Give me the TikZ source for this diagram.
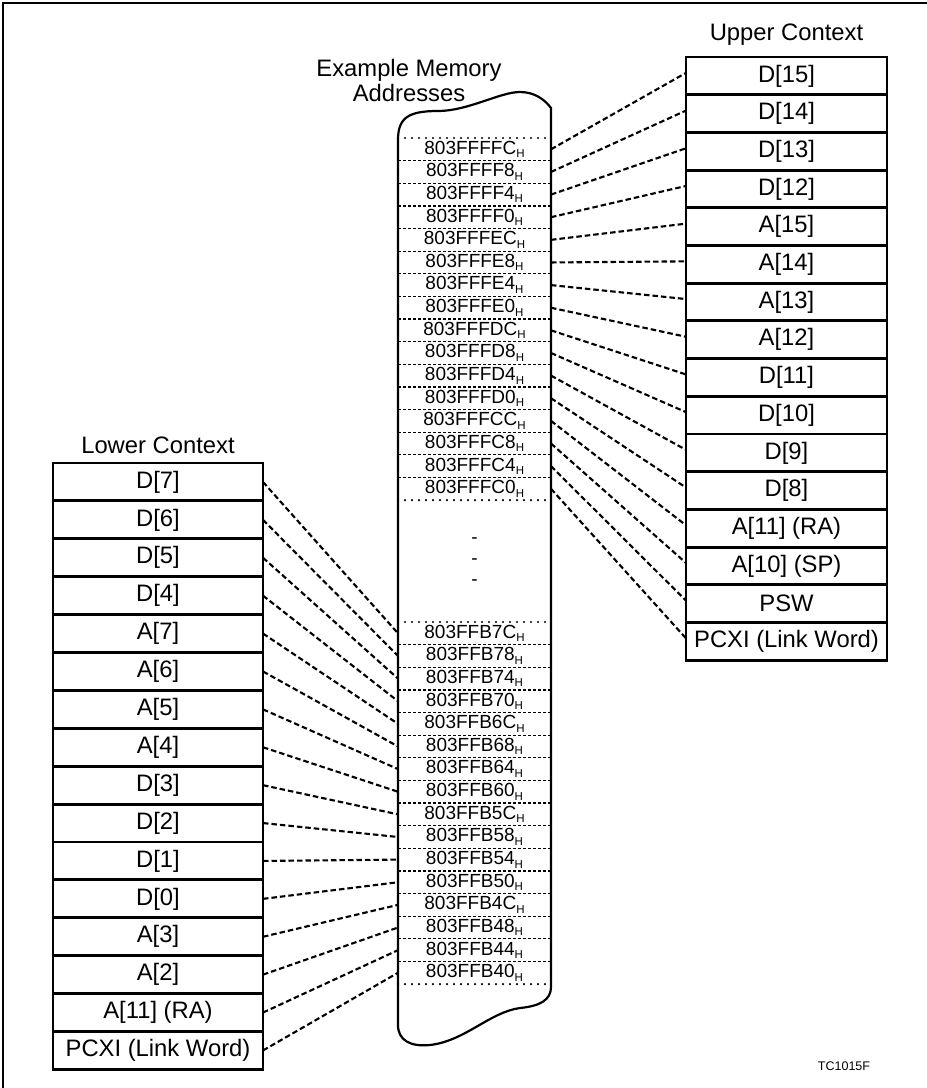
\documentclass[tikz,border=0pt]{standalone}
\usepackage{fontspec}
\setmainfont{Liberation Sans}
\newcommand{\addr}[1]{#1\raisebox{-0.35ex}{\fontsize{11.5}{11.5}\selectfont H}}
\begin{document}
\begin{tikzpicture}[x=1pt,y=-1pt,
  regbox/.style={draw, line width=2.8pt, minimum height=37.75pt, inner sep=0pt, outer sep=0pt, font=\fontsize{23.8}{27}\selectfont},
  upbox/.style={regbox, minimum width=201pt},
  lowbox/.style={regbox, minimum width=210pt},
  cell/.style={minimum width=153pt, minimum height=22.63pt, inner sep=0pt, outer sep=0pt, font=\fontsize{19}{20}\selectfont},
  conn/.style={line width=2.1pt, dash pattern=on 5.5pt off 3pt},
  celldash/.style={line width=1.3pt, dash pattern=on 3pt off 2pt},
  celldot/.style={line width=2.4pt, dash pattern=on 0pt off 7pt, line cap=round},
  lbl/.style={font=\fontsize{23.8}{25}\selectfont, align=center, inner sep=0pt}]
\useasboundingbox (0,0) rectangle (927,1088);
% frame
\draw[line width=2pt] (3,1088) -- (3,3) -- (927,3);

% memory column outline
\draw[line width=2.2pt] (551,987) -- (551,108)
  .. controls (545,100) and (535,92) .. (520,92)
  .. controls (500,92) and (468,111) .. (438,111)
  .. controls (408,111) and (398,118) .. (398,140)
  -- (398,1025)
  .. controls (398,1040) and (410,1047) .. (430,1045)
  .. controls (465,1041) and (490,1012) .. (520,1008)
  .. controls (540,1006) and (551,1000) .. (551,987);

% upper cells
\foreach \a [count=\i from 0] in {FFFC,FFF8,FFF4,FFF0,FFEC,FFE8,FFE4,FFE0,FFDC,FFD8,FFD4,FFD0,FFCC,FFC8,FFC4,FFC0}
  \node[cell] (uc\i) at (474.5,{138+22.63*(\i+0.5)}) {\addr{803F\a}};
% lower cells
\foreach \a [count=\i from 0] in {FB7C,FB78,FB74,FB70,FB6C,FB68,FB64,FB60,FB5C,FB58,FB54,FB50,FB4C,FB48,FB44,FB40}
  \node[cell] (lc\i) at (474.5,{622+22.63*(\i+0.5)}) {\addr{803F\a}};

% cell separators
\foreach \i in {0,...,14} {
  \draw[celldash] (uc\i.south west) -- (uc\i.south east);
  \draw[celldash] (lc\i.south west) -- (lc\i.south east);
}
\draw[celldot] (uc0.north west) -- (uc0.north east);
\draw[celldot] (uc15.south west) -- (uc15.south east);
\draw[celldot] (lc0.north west) -- (lc0.north east);
\draw[celldot] (lc15.south west) -- (lc15.south east);

% gap marks
\node[font=\fontsize{19}{20}\selectfont, inner sep=0pt] (g1) at (474.5,541) {-};
\node[font=\fontsize{19}{20}\selectfont, inner sep=0pt] (g2) at (474.5,562) {-};
\node[font=\fontsize{19}{20}\selectfont, inner sep=0pt] (g3) at (474.5,583) {-};

% upper context
\foreach \lab [count=\i from 0] in {{D[15]},{D[14]},{D[13]},{D[12]},{A[15]},{A[14]},{A[13]},{A[12]},{D[11]},{D[10]},{D[9]},{D[8]},{A[11] (RA)},{A[10] (SP)},{PSW},{PCXI (Link Word)}}
  \node[upbox] (ub\i) at (786.5,{57+37.7*(\i+0.5)}) {\lab};
% lower context
\foreach \lab [count=\i from 0] in {{D[7]},{D[6]},{D[5]},{D[4]},{A[7]},{A[6]},{A[5]},{A[4]},{D[3]},{D[2]},{D[1]},{D[0]},{A[3]},{A[2]},{A[11] (RA)},{PCXI (Link Word)}}
  \node[lowbox] (lb\i) at (158,{463+37.9*(\i+0.5)}) {\lab};

% connectors
\foreach \i in {0,...,15} {
  \draw[conn] (uc\i.east) -- ([yshift=3pt]ub\i.west);
  \draw[conn] (lb\i.east) -- (lc\i.west);
}

% titles
\node[lbl] (ut) at (786.5,35) {Upper Context};
\node[lbl] (lt) at (158,445) {Lower Context};
\node[lbl] (mt) at (409,80) {Example Memory\\Addresses};
\node[font=\fontsize{12.5}{14}\selectfont, inner sep=0pt] (tc) at (844,1066) {TC1015F};
\end{tikzpicture}
\end{document}
